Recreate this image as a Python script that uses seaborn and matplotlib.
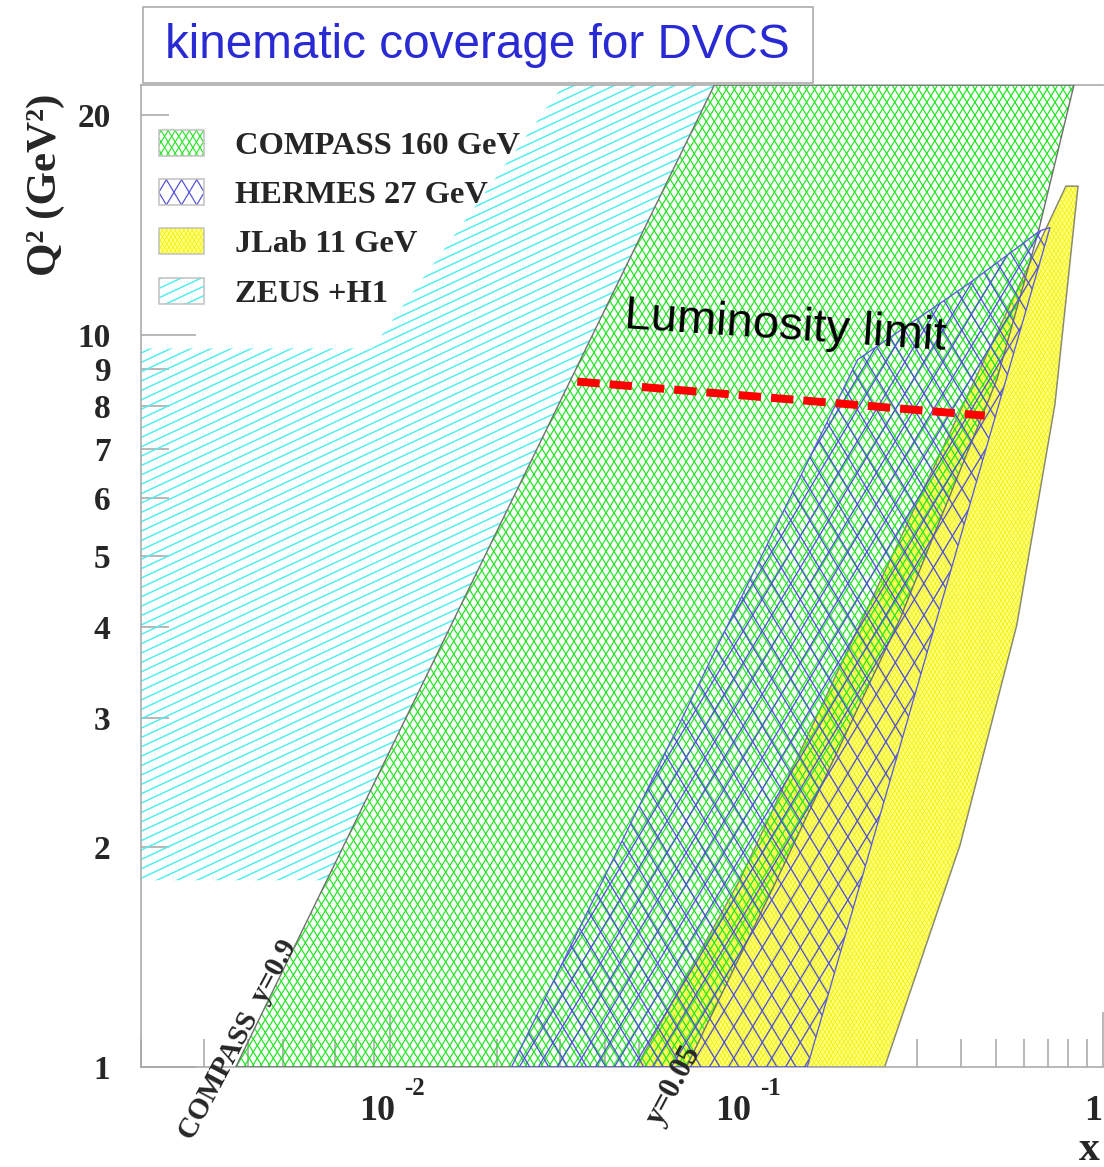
import numpy as np
import matplotlib
matplotlib.use('Agg')
import matplotlib.pyplot as plt
import seaborn as sns
from matplotlib.collections import LineCollection
from matplotlib.patches import Polygon, Rectangle
from matplotlib import transforms as mtransforms
from matplotlib.ticker import FixedLocator, FixedFormatter, NullFormatter

# Region outlines: x and Q^2 (GeV^2)
compass_x = [0.00369, 0.0812, 0.829, 0.657, 0.504, 0.269, 0.1214, 0.0678]
compass_q2 = [1.0, 22.0, 22.0, 13.8, 8.71, 4.09, 1.80, 1.0]

hermes_x = [0.0219, 0.205, 0.423, 0.665, 0.710, 0.148]
hermes_q2 = [1.0, 9.27, 11.8, 13.9, 14.05, 1.0]

jlab_x = [0.0491, 0.0956, 0.787, 0.851, 0.733, 0.573, 0.397, 0.244]
jlab_q2 = [1.0, 1.80, 16.0, 16.0, 8.05, 4.02, 2.01, 1.0]

zeus_x = [0.002, 0.002, 0.0089, 0.0306, 0.0812, 0.00664]
zeus_q2 = [1.8, 9.6, 9.6, 22.0, 22.0, 1.8]

# luminosity limit (red dashed line)
lumi_x = [0.0335, 0.466]
lumi_q2 = [8.65, 7.77]

legend_labels = ['COMPASS 160 GeV', 'HERMES 27 GeV', 'JLab 11 GeV', 'ZEUS +H1']

y_major = [1, 10]
y_minor = [2, 3, 4, 5, 6, 7, 8, 9, 20]
x_major = [0.01, 0.1, 1.0]
x_bases = ['10', '10', '1']
x_exps = ['-2', '-1', '']

W, H, DPI = 1104, 1167, 100

sns.set_theme(style='white')
plt.rcParams['font.family'] = ['Liberation Serif', 'DejaVu Serif']
plt.rcParams['font.weight'] = 'bold'

fig = plt.figure(figsize=(W / DPI, H / DPI), dpi=DPI)
ax = fig.add_axes([141 / W, 1 - 1067 / H, 962 / W, 982 / H])
ax.set_xscale('log')
ax.set_yscale('log')
ax.set_xlim(0.002, 1.0)
ax.set_ylim(1, 22)

# pixel coordinates, origin bottom-left
pix = mtransforms.Affine2D().scale(1 / DPI) + fig.dpi_scale_trans
PT = 72 / DPI  # one pixel in points


def hatch(clip, angles, spacing, color, lw, z, parent):
    segs = []
    diag = np.hypot(W, H)
    c = np.array([W / 2, H / 2])
    for ang in angles:
        t = np.radians(ang)
        d = np.array([np.cos(t), np.sin(t)])
        n = np.array([-np.sin(t), np.cos(t)])
        for k in np.arange(-diag, diag, spacing):
            p = c + k * n
            segs.append([p - diag * d, p + diag * d])
    lc = LineCollection(segs, colors=color, linewidths=lw * PT,
                        transform=pix, zorder=z)
    if parent is ax:
        ax.add_collection(lc, autolim=False)
    else:
        fig.add_artist(lc)
    lc.set_clip_path(clip)
    return lc


def region(xs, qs, face, edge, elw, z):
    pts = np.column_stack([xs, qs])
    body = Polygon(pts, closed=True, facecolor=face, edgecolor='none', zorder=z)
    ax.add_patch(body)
    line = Polygon(pts, closed=True, facecolor='none', edgecolor=edge,
                   lw=elw * PT, zorder=z + 0.5)
    ax.add_patch(line)
    return body


# ZEUS + H1
zeus = region(zeus_x, zeus_q2, 'none', 'none', 0, 1)
hatch(zeus, [25], 8.5, '#50eeee', 1.5, 1.2, ax)

# JLab
jlab = region(jlab_x, jlab_q2, '#ffff84', '#8a8a70', 1.5, 2)
hatch(jlab, [58, 122], 3.6, '#f0f000', 0.7, 2.2, ax)

# COMPASS
compass = region(compass_x, compass_q2, 'none', '#707070', 1.4, 3)
hatch(compass, [58, 122], 6.8, '#20e620', 1.2, 3.2, ax)

# HERMES
hermes = region(hermes_x, hermes_q2, 'none', '#5a5ae0', 1.3, 4)
hatch(hermes, [59, 121], 16.3, '#5050d8', 1.3, 4.2, ax)

# luminosity limit
sns.lineplot(x=lumi_x, y=lumi_q2, ax=ax, color='#ff0000', lw=8 * PT,
             linestyle=(0, (2.8, 1.25)), zorder=6)
ax.text(0.0451, 10.25, 'Luminosity limit', family='Liberation Sans',
        fontweight='normal', fontsize=34, rotation=-3.9, rotation_mode='anchor',
        ha='left', va='baseline', color='black', zorder=7)

# boundary labels
ax.text(0.00548, 1.469, 'COMPASS  y=0.9', rotation=62, rotation_mode='anchor',
        ha='right', va='baseline', fontsize=21, fontweight='bold',
        clip_on=False, zorder=7)
ax.text(0.0745, 1.05, 'y=0.05', rotation=62, rotation_mode='anchor',
        ha='right', va='baseline', fontsize=22, fontweight='bold',
        clip_on=False, zorder=7)

# axes styling
ax.set_xlabel('')
ax.set_ylabel('')
ax.grid(False)
for side in ['left', 'bottom', 'top']:
    ax.spines[side].set_color('#a8a8a8')
    ax.spines[side].set_linewidth(1.6 * PT)
ax.spines['right'].set_visible(False)

ax.xaxis.set_major_locator(FixedLocator(x_major))
ax.xaxis.set_major_formatter(NullFormatter())
x_minor = [m * 10.0 ** e for e in (-3, -2, -1) for m in range(2, 10)]
ax.xaxis.set_minor_locator(FixedLocator(x_minor))
ax.xaxis.set_minor_formatter(NullFormatter())

ax.yaxis.set_major_locator(FixedLocator(y_major))
ax.yaxis.set_major_formatter(FixedFormatter([str(v) for v in y_major]))
ax.yaxis.set_minor_locator(FixedLocator(y_minor))
ax.yaxis.set_minor_formatter(FixedFormatter([str(v) for v in y_minor]))

ax.tick_params(which='both', direction='in', color='#a8a8a8', width=1.6 * PT,
               bottom=True, left=True, top=False, right=False)
ax.tick_params(which='major', length=55 * PT)
ax.tick_params(which='minor', length=28 * PT)
ax.tick_params(axis='y', which='both', labelsize=24, pad=22)
for lab in ax.get_yticklabels(minor=True) + ax.get_yticklabels():
    lab.set_fontweight('bold')

# x tick labels drawn ROOT style: base plus raised exponent
xtrans = ax.get_xaxis_transform()
for xv, base, ex in zip(x_major, x_bases, x_exps):
    if ex:
        t1 = mtransforms.offset_copy(xtrans, fig=fig, x=5, y=-53, units='dots')
        ax.text(xv, 0, base, transform=t1, ha='right', va='baseline',
                fontsize=26, fontweight='bold', clip_on=False)
        t2 = mtransforms.offset_copy(xtrans, fig=fig, x=14, y=-28, units='dots')
        ax.text(xv, 0, ex, transform=t2, ha='left', va='baseline',
                fontsize=18, fontweight='bold', clip_on=False)
    else:
        t1 = mtransforms.offset_copy(xtrans, fig=fig, x=-1, y=-53, units='dots')
        ax.text(xv, 0, base, transform=t1, ha='right', va='baseline',
                fontsize=26, fontweight='bold', clip_on=False)

ax.set_xlim(0.002, 1.0)
ax.set_ylim(1, 22)

# axis titles
fig.text(46, H - 185, 'Q² (GeV²)', transform=pix, rotation=90, ha='center',
         va='center', fontsize=31, fontweight='bold')
fig.text(1100, H - 1160, 'x', transform=pix, ha='right', va='baseline',
         fontsize=30, fontweight='bold')

# title box
fig.add_artist(Rectangle((143, H - 83), 670, 76, transform=pix, facecolor='white',
                         edgecolor='#a8a8a8', lw=1.6 * PT, zorder=5))
fig.text(477, H - 45, 'kinematic coverage for DVCS', transform=pix,
         family='Liberation Sans', fontweight='normal', fontsize=34.3,
         color='#2a2ad4', ha='center', va='center', zorder=6)

# legend
row_y = [143, 192, 241, 291]
styles = [
    dict(face='white', angles=[58, 122], sp=6.0, col='#20e620', lw=1.1),
    dict(face='white', angles=[59, 121], sp=13.0, col='#5050d8', lw=1.2),
    dict(face='#ffff84', angles=[58, 122], sp=3.6, col='#f0f000', lw=0.7),
    dict(face='white', angles=[25], sp=8.5, col='#50eeee', lw=1.5),
]
for yc, lab, st in zip(row_y, legend_labels, styles):
    box = Rectangle((159, H - yc - 13), 45, 26, transform=pix,
                    facecolor=st['face'], edgecolor='none', zorder=5)
    fig.add_artist(box)
    hatch(box, st['angles'], st['sp'], st['col'], st['lw'], 5.2, fig)
    fig.add_artist(Rectangle((159, H - yc - 13), 45, 26, transform=pix,
                             facecolor='none', edgecolor='#c0c0c0',
                             lw=1.5 * PT, zorder=5.4))
    fig.text(235, H - yc - 11, lab, transform=pix, ha='left', va='baseline',
             fontsize=23.4, fontweight='bold', zorder=6)

fig.savefig('out.png', dpi=DPI)
